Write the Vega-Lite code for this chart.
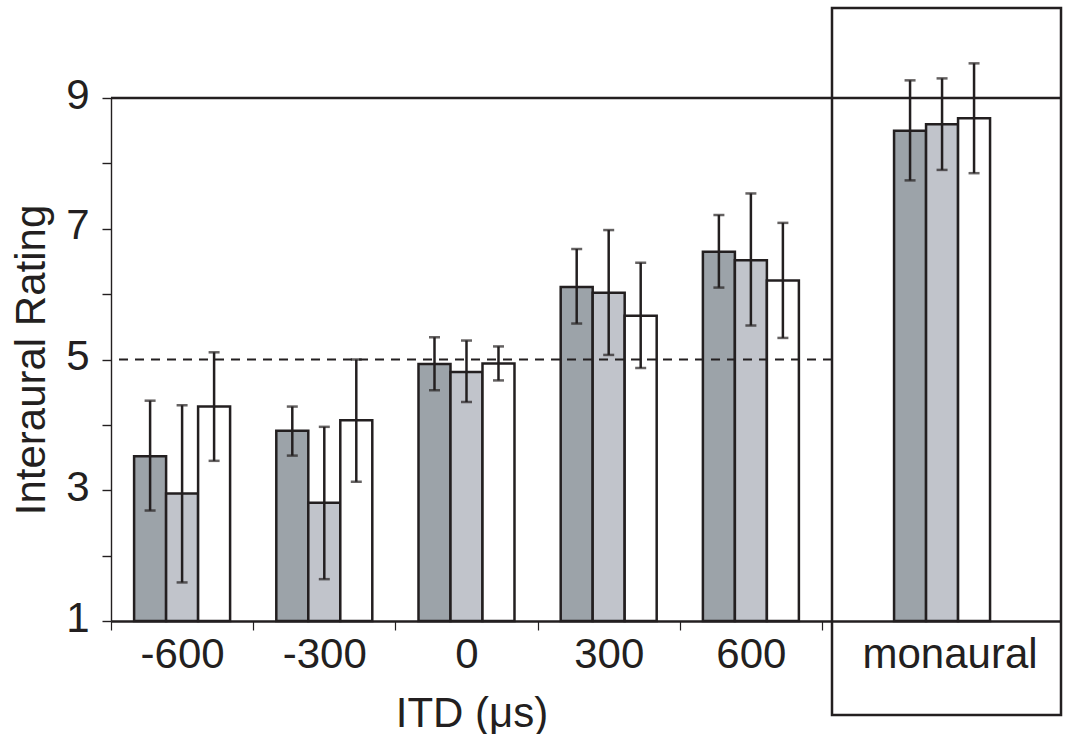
{
  "$schema": "https://vega.github.io/schema/vega-lite/v6.json",
  "padding": {"left": 10, "top": 6, "right": 4, "bottom": 0},
  "autosize": {"type": "pad"},
  "background": "white",
  "config": {
    "font": "Liberation Sans",
    "view": {"stroke": null},
    "axis": {
      "labelFontSize": 42,
      "titleFontSize": 42,
      "titleFontWeight": "normal",
      "labelColor": "#231f20",
      "titleColor": "#231f20",
      "domainColor": "#231f20",
      "tickColor": "#231f20",
      "grid": false
    }
  },
  "datasets": {
    "ratings": [
      {"itd": "-600", "cond": "A", "mean": 3.52, "lo": 2.69, "hi": 4.37},
      {"itd": "-600", "cond": "B", "mean": 2.95, "lo": 1.59, "hi": 4.30},
      {"itd": "-600", "cond": "C", "mean": 4.28, "lo": 3.45, "hi": 5.11},
      {"itd": "-300", "cond": "A", "mean": 3.91, "lo": 3.53, "hi": 4.28},
      {"itd": "-300", "cond": "B", "mean": 2.81, "lo": 1.64, "hi": 3.97},
      {"itd": "-300", "cond": "C", "mean": 4.07, "lo": 3.13, "hi": 5.00},
      {"itd": "0", "cond": "A", "mean": 4.93, "lo": 4.53, "hi": 5.34},
      {"itd": "0", "cond": "B", "mean": 4.81, "lo": 4.35, "hi": 5.29},
      {"itd": "0", "cond": "C", "mean": 4.94, "lo": 4.68, "hi": 5.20},
      {"itd": "300", "cond": "A", "mean": 6.11, "lo": 5.55, "hi": 6.69},
      {"itd": "300", "cond": "B", "mean": 6.02, "lo": 5.07, "hi": 6.98},
      {"itd": "300", "cond": "C", "mean": 5.67, "lo": 4.87, "hi": 6.48},
      {"itd": "600", "cond": "A", "mean": 6.65, "lo": 6.10, "hi": 7.21},
      {"itd": "600", "cond": "B", "mean": 6.52, "lo": 5.52, "hi": 7.54},
      {"itd": "600", "cond": "C", "mean": 6.21, "lo": 5.33, "hi": 7.09},
      {"itd": "monaural", "cond": "A", "mean": 8.50, "lo": 7.74, "hi": 9.27},
      {"itd": "monaural", "cond": "B", "mean": 8.60, "lo": 7.90, "hi": 9.30},
      {"itd": "monaural", "cond": "C", "mean": 8.69, "lo": 7.85, "hi": 9.53}
    ]
  },
  "spacing": 0,
  "bounds": "flush",
  "hconcat": [
    {
      "width": 721,
      "height": 523,
      "data": {"name": "ratings"},
      "transform": [{"filter": "datum.itd !== 'monaural'"}],
      "layer": [
        {
          "mark": {"type": "bar", "stroke": "#231f20", "strokeWidth": 2.5},
          "encoding": {
            "x": {
              "field": "itd", "type": "nominal",
              "sort": ["-600", "-300", "0", "300", "600"],
              "scale": {"paddingInner": 0, "paddingOuter": 0.0352, "align": 0},
              "axis": {
                "title": "ITD (μs)",
                "labelAngle": 0,
                "tickBand": "extent",
                "tickSize": 9,
                "tickWidth": 1.2,
                "domainWidth": 2.5,
                "labelPadding": 4,
                "titlePadding": 18
              }
            },
            "xOffset": {"field": "cond", "type": "nominal", "scale": {"paddingInner": 0, "paddingOuter": 0.722}},
            "y": {
              "field": "mean", "type": "quantitative",
              "scale": {"domain": [1, 9], "nice": false, "zero": false},
              "axis": {
                "title": "Interaural Rating",
                "values": [1, 2, 3, 4, 5, 6, 7, 8, 9],
                "labelExpr": "datum.value % 2 == 1 ? format(datum.value, 'd') : ''",
                "tickSize": 9,
                "tickWidth": 1.4,
                "domainWidth": 1.4,
                "labelPadding": 13,
                "titlePadding": 12,
                "labelOffset": -3
              }
            },
            "y2": {"datum": 1},
            "fill": {
              "field": "cond", "type": "nominal",
              "scale": {"domain": ["A", "B", "C"], "range": ["#9ca3a9", "#c1c4cb", "#ffffff"]},
              "legend": null
            }
          }
        },
        {
          "mark": {"type": "rule", "color": "#231f20", "strokeWidth": 2.5},
          "encoding": {
            "x": {"field": "itd", "type": "nominal", "sort": ["-600", "-300", "0", "300", "600"]},
            "xOffset": {"field": "cond", "type": "nominal"},
            "y": {"field": "lo", "type": "quantitative"},
            "y2": {"field": "hi"}
          }
        },
        {
          "mark": {"type": "tick", "color": "#231f20", "size": 11, "thickness": 2.5, "orient": "horizontal"},
          "encoding": {
            "x": {"field": "itd", "type": "nominal", "sort": ["-600", "-300", "0", "300", "600"]},
            "xOffset": {"field": "cond", "type": "nominal"},
            "y": {"field": "lo", "type": "quantitative"}
          }
        },
        {
          "mark": {"type": "tick", "color": "#231f20", "size": 11, "thickness": 2.5, "orient": "horizontal"},
          "encoding": {
            "x": {"field": "itd", "type": "nominal", "sort": ["-600", "-300", "0", "300", "600"]},
            "xOffset": {"field": "cond", "type": "nominal"},
            "y": {"field": "hi", "type": "quantitative"}
          }
        },
        {
          "data": {"values": [{}]},
          "mark": {"type": "rule", "color": "#231f20", "strokeWidth": 2.5},
          "encoding": {"y": {"datum": 9}}
        },
        {
          "data": {"values": [{}]},
          "mark": {"type": "rule", "color": "#231f20", "strokeWidth": 2.2, "strokeDash": [9, 7]},
          "encoding": {"y": {"datum": 5}}
        }
      ]
    },
    {
      "width": 229,
      "height": 523,
      "data": {"name": "ratings"},
      "transform": [{"filter": "datum.itd === 'monaural'"}],
      "layer": [
        {
          "mark": {"type": "bar", "stroke": "#231f20", "strokeWidth": 2.5},
          "encoding": {
            "x": {
              "field": "itd", "type": "nominal",
              "scale": {"paddingInner": 0, "paddingOuter": 0.305, "align": 0.449},
              "axis": {
                "title": null,
                "labelAngle": 0,
                "tickSize": 9,
                "tickOpacity": 0,
                "domainWidth": 2.5,
                "labelPadding": 4,
                "labelOffset": 8
              }
            },
            "xOffset": {"field": "cond", "type": "nominal", "scale": {"paddingInner": 0, "paddingOuter": 0.722}},
            "y": {
              "field": "mean", "type": "quantitative",
              "scale": {"domain": [1, 9], "nice": false, "zero": false},
              "axis": null
            },
            "y2": {"datum": 1},
            "fill": {
              "field": "cond", "type": "nominal",
              "scale": {"domain": ["A", "B", "C"], "range": ["#9ca3a9", "#c1c4cb", "#ffffff"]},
              "legend": null
            }
          }
        },
        {
          "mark": {"type": "rule", "color": "#231f20", "strokeWidth": 2.5},
          "encoding": {
            "x": {"field": "itd", "type": "nominal"},
            "xOffset": {"field": "cond", "type": "nominal"},
            "y": {"field": "lo", "type": "quantitative"},
            "y2": {"field": "hi"}
          }
        },
        {
          "mark": {"type": "tick", "color": "#231f20", "size": 11, "thickness": 2.5, "orient": "horizontal"},
          "encoding": {
            "x": {"field": "itd", "type": "nominal"},
            "xOffset": {"field": "cond", "type": "nominal"},
            "y": {"field": "lo", "type": "quantitative"}
          }
        },
        {
          "mark": {"type": "tick", "color": "#231f20", "size": 11, "thickness": 2.5, "orient": "horizontal"},
          "encoding": {
            "x": {"field": "itd", "type": "nominal"},
            "xOffset": {"field": "cond", "type": "nominal"},
            "y": {"field": "hi", "type": "quantitative"}
          }
        },
        {
          "data": {"values": [{}]},
          "mark": {"type": "rule", "color": "#231f20", "strokeWidth": 2.5},
          "encoding": {"y": {"datum": 9}}
        },
        {
          "data": {"values": [{}]},
          "mark": {"type": "rect", "fill": "transparent", "stroke": "#231f20", "strokeWidth": 2.5},
          "encoding": {"y": {"datum": 10.377}, "y2": {"datum": -0.438}}
        }
      ]
    }
  ]
}
